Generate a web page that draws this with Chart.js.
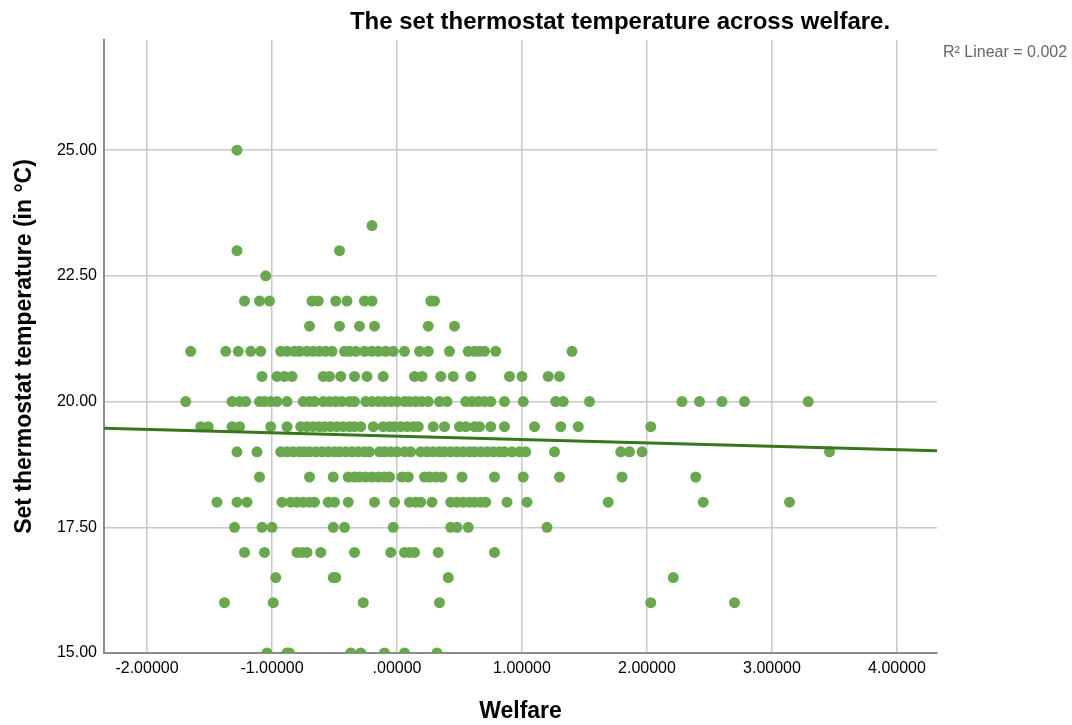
<!DOCTYPE html>
<html lang="en">
<head>
    <meta charset="UTF-8">
    <title>The set thermostat temperature across welfare.</title>
    <script src="https://cdn.jsdelivr.net/npm/chart.js"></script>
    <style>
        body {
            margin: 0;
            background: #fff;
            font-family: "Liberation Sans", Arial, sans-serif;
            overflow: hidden;
        }
        .wrap {
            position: relative;
            width: 1072px;
            height: 725px;
        }
        .title {
            position: absolute;
            left: 620px;
            top: 7px;
            transform: translateX(-50%);
            white-space: nowrap;
            font-weight: bold;
            font-size: 24px;
            color: #000;
        }
        .fit-label {
            position: absolute;
            left: 943px;
            top: 43px;
            white-space: nowrap;
            font-size: 16px;
            color: #666;
        }
    </style>
</head>
<body>
<div class="wrap">
    <canvas id="chart" width="1072" height="725"></canvas>
    <div class="title">The set thermostat temperature across welfare.</div>
    <div class="fit-label">R² Linear = 0.002</div>
</div>
<script>
    // welfare scores, grouped by the set temperature (°C) they were recorded at
    const temps = [25, 23.5, 23, 22.5, 22, 21.5, 21, 20.5, 20, 19.5, 19, 18.5, 18, 17.5, 17, 16.5, 16, 15];

    const w25_0 = [-1.28];
    const w23_5 = [-0.20];
    const w23_0 = [-1.28, -0.46];
    const w22_5 = [-1.05];
    const w22_0 = [-1.22, -1.10, -1.02, -0.68, -0.63, -0.49, -0.40, -0.26, -0.20, 0.27, 0.30];
    const w21_5 = [-0.70, -0.46, -0.30, -0.18, 0.25, 0.46];
    const w21_0 = [-1.65, -1.37, -1.27, -1.17, -1.09, -0.93, -0.88, -0.82, -0.78, -0.72, -0.67, -0.62, -0.57, -0.52,
        -0.42, -0.38, -0.33, -0.26, -0.20, -0.15, -0.09, -0.03, 0.06, 0.18, 0.25, 0.42, 0.57, 0.62, 0.66, 0.70, 0.79, 1.40];
    const w20_5 = [-1.08, -0.96, -0.90, -0.84, -0.59, -0.54, -0.45, -0.34, -0.24, -0.11, 0.14, 0.20, 0.35, 0.45, 0.59,
        0.90, 1.00, 1.21, 1.30];
    const w20_0 = [-1.69, -1.32, -1.26, -1.21, -1.10, -1.06, -1.01, -0.96, -0.88, -0.75, -0.70, -0.66, -0.59, -0.54,
        -0.49, -0.44, -0.38, -0.34, -0.25, -0.20, -0.15, -0.10, -0.05, 0.00, 0.06, 0.10, 0.15, 0.20, 0.25, 0.34, 0.40,
        0.55, 0.60, 0.65, 0.70, 0.75, 0.86, 1.01, 1.27, 1.33, 1.54, 2.28, 2.42, 2.60, 2.78, 3.29];
    const w19_5 = [-1.57, -1.51, -1.32, -1.26, -1.01, -0.88, -0.77, -0.72, -0.67, -0.62, -0.58, -0.53, -0.48, -0.43,
        -0.38, -0.34, -0.29, -0.19, -0.11, -0.06, -0.02, 0.03, 0.08, 0.13, 0.17, 0.29, 0.38, 0.50, 0.55, 0.62, 0.66,
        0.75, 0.86, 1.10, 1.31, 1.45, 2.03];
    const w19_0 = [-1.28, -1.12, -0.93, -0.88, -0.83, -0.78, -0.74, -0.70, -0.65, -0.60, -0.55, -0.50, -0.46, -0.41,
        -0.36, -0.31, -0.26, -0.22, -0.14, -0.10, -0.05, 0.00, 0.06, 0.11, 0.19, 0.24, 0.29, 0.34, 0.38, 0.43, 0.48,
        0.53, 0.58, 0.62, 0.67, 0.72, 0.77, 0.82, 0.86, 0.92, 0.98, 1.03, 1.26, 1.79, 1.86, 1.96, 3.46];
    const w18_5 = [-1.10, -0.70, -0.51, -0.39, -0.34, -0.30, -0.25, -0.20, -0.15, -0.10, -0.06, 0.04, 0.09, 0.22, 0.26,
        0.31, 0.36, 0.52, 0.78, 1.01, 1.30, 1.80, 2.39];
    const w18_0 = [-1.44, -1.28, -1.20, -0.92, -0.85, -0.80, -0.75, -0.70, -0.66, -0.55, -0.50, -0.39, -0.18, -0.02,
        0.10, 0.15, 0.19, 0.28, 0.43, 0.48, 0.53, 0.58, 0.62, 0.67, 0.71, 0.88, 1.04, 1.69, 2.45, 3.14];
    const w17_5 = [-1.30, -1.08, -1.00, -0.51, -0.42, -0.03, 0.43, 0.48, 0.57, 1.20];
    const w17_0 = [-1.22, -1.06, -0.80, -0.76, -0.72, -0.61, -0.34, -0.05, 0.06, 0.10, 0.14, 0.33, 0.78];
    const w16_5 = [-0.97, -0.51, -0.49, 0.41, 2.21];
    const w16_0 = [-1.38, -0.99, -0.27, 0.34, 2.03, 2.70];
    const w15_0 = [-1.04, -0.88, -0.86, -0.37, -0.29, -0.10, 0.06, 0.32];

    const welfareByTemp = [w25_0, w23_5, w23_0, w22_5, w22_0, w21_5, w21_0, w20_5, w20_0, w19_5, w19_0, w18_5,
        w18_0, w17_5, w17_0, w16_5, w16_0, w15_0];

    // fit line (R² Linear = 0.002), ends read at the axis limits
    const fitWelfare = [-2.344, 4.32];
    const fitTemp = [19.47, 19.02];

    const xTicks = [-2, -1, 0, 1, 2, 3, 4];
    const xTickLabels = ["-2.00000", "-1.00000", ".00000", "1.00000", "2.00000", "3.00000", "4.00000"];
    const yTicks = [15, 17.5, 20, 22.5, 25];
    const yTickLabels = ["15.00", "17.50", "20.00", "22.50", "25.00"];

    let points = [];
    temps.forEach((t, i) => {
        welfareByTemp[i].forEach(w => points.push({ x: w, y: t }));
    });
    let fitLine = fitWelfare.map((w, i) => ({ x: w, y: fitTemp[i] }));

    Chart.defaults.font.family = '"Liberation Sans", Arial, sans-serif';
    Chart.defaults.color = "#000";

    new Chart(document.getElementById("chart"), {
        type: "scatter",
        data: {
            datasets: [
                {
                    data: fitLine,
                    showLine: true,
                    borderColor: "#38761d",
                    borderWidth: 3,
                    pointRadius: 0,
                    order: 0
                },
                {
                    data: points,
                    backgroundColor: "#6aa84f",
                    borderWidth: 0,
                    pointRadius: 5.5,
                    order: 1
                }
            ]
        },
        options: {
            responsive: false,
            animation: false,
            layout: { padding: { top: 40, right: 135, left: 0, bottom: 0 } },
            plugins: {
                legend: { display: false },
                tooltip: { enabled: false }
            },
            scales: {
                x: {
                    type: "linear",
                    min: -2.344,
                    max: 4.32,
                    afterBuildTicks: scale => { scale.ticks = xTicks.map(v => ({ value: v })); },
                    afterFit: scale => { scale.height = 72; },
                    grid: { color: "#c8c8c8", lineWidth: 1.5, drawTicks: false },
                    border: { color: "#8c8c8c", width: 2 },
                    ticks: {
                        padding: 6,
                        maxRotation: 0,
                        autoSkip: false,
                        font: { size: 16 },
                        callback: (v, i) => xTickLabels[i]
                    },
                    title: {
                        display: true,
                        text: "Welfare",
                        font: { size: 23, weight: "bold" },
                        padding: { top: 0, bottom: 0 }
                    }
                },
                y: {
                    type: "linear",
                    min: 15,
                    max: 27.19,
                    afterBuildTicks: scale => { scale.ticks = yTicks.map(v => ({ value: v })); },
                    afterFit: scale => { scale.width = 104; },
                    grid: { color: "#c8c8c8", lineWidth: 1.5, drawTicks: false },
                    border: { color: "#8c8c8c", width: 2 },
                    ticks: {
                        padding: 7,
                        font: { size: 16 },
                        callback: (v, i) => yTickLabels[i]
                    },
                    title: {
                        display: true,
                        text: "Set thermostat temperature (in °C)",
                        font: { size: 23, weight: "bold" },
                        padding: { top: 11, bottom: 0 }
                    }
                }
            }
        }
    });
</script>
</body>
</html>
